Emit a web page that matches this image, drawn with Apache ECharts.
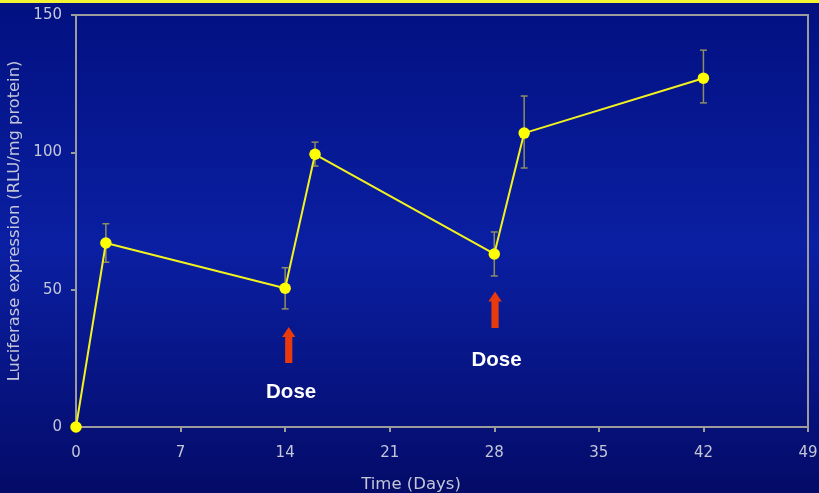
<!DOCTYPE html>
<html><head><meta charset="utf-8">
<script src="https://cdn.jsdelivr.net/npm/echarts@6/dist/echarts.min.js"></script>
<style>html,body{margin:0;padding:0;background:#03107e;}#c{width:819px;height:493px;}</style>
</head><body><div id="c"></div>
<script>
const days = [0, 2, 14, 16, 28, 30, 42];
const expression = [0, 67, 50.5, 99.3, 63, 107, 127];
const errLow = [0, 60, 43, 95, 55, 94.3, 118];
const errHigh = [0, 74, 58, 103.7, 71, 120.5, 137.2];
const doseArrows = [[14.24, 23.3, 36.4], [28.05, 36, 49.3]]; // [day, tail value, head value]
const doseLabels = [[14.4, 12.7, 'Dose'], [28.15, 24.1, 'Dose']];
const xTicks = [0, 7, 14, 21, 28, 35, 42, 49];
const yTicks = [0, 50, 100, 150];

const chart = echarts.init(document.getElementById('c'));
const axisGrey = '#9c9c9c';
const labelColor = '#c4c6d8';
chart.setOption({
  animation: false,
  backgroundColor: {
    type: 'linear', x: 0, y: 0, x2: 0, y2: 1,
    colorStops: [
      {offset: 0, color: '#021080'},
      {offset: 0.5, color: '#0a1fa2'},
      {offset: 1, color: '#040b68'}
    ]
  },
  graphic: [{type: 'rect', left: 0, top: 0, shape: {width: 819, height: 3}, style: {fill: '#f4f432'}}],
  grid: {left: 76, right: 11, top: 15, bottom: 66, containLabel: false, outerBoundsMode: 'none',
    show: true, borderColor: axisGrey, borderWidth: 2, backgroundColor: 'transparent'},
  xAxis: {
    type: 'value', min: xTicks[0], max: xTicks[xTicks.length - 1], interval: 7,
    name: 'Time (Days)', nameLocation: 'middle', nameGap: 49,
    nameTextStyle: {color: labelColor, fontFamily: 'DejaVu Sans', fontSize: 16.5, padding: [0, 62, 0, 0]},
    axisLine: {lineStyle: {color: axisGrey, width: 2}},
    axisTick: {show: true, length: 5, lineStyle: {color: axisGrey, width: 2}},
    axisLabel: {color: labelColor, fontFamily: 'DejaVu Sans', fontSize: 15, margin: 19},
    splitLine: {show: false}
  },
  yAxis: {
    type: 'value', min: yTicks[0], max: yTicks[yTicks.length - 1], interval: 50,
    name: 'Luciferase expression (RLU/mg protein)', nameLocation: 'middle', nameGap: 46,
    nameTextStyle: {color: labelColor, fontFamily: 'DejaVu Sans', fontSize: 16.3},
    axisLine: {lineStyle: {color: axisGrey, width: 2}},
    axisTick: {show: true, length: 5, lineStyle: {color: axisGrey, width: 2}},
    axisLabel: {color: labelColor, fontFamily: 'DejaVu Sans', fontSize: 15, margin: 14},
    splitLine: {show: false}
  },
  series: [
    {
      type: 'custom', z: 1,
      data: days.map((d, i) => [d, errLow[i], errHigh[i]]),
      renderItem: function (params, api) {
        const lo = api.coord([api.value(0), api.value(1)]);
        const hi = api.coord([api.value(0), api.value(2)]);
        const w = 3.5;
        const st = {stroke: '#8e8e62', lineWidth: 1.5};
        return {type: 'group', children: [
          {type: 'line', shape: {x1: lo[0], y1: lo[1], x2: hi[0], y2: hi[1]}, style: st},
          {type: 'line', shape: {x1: lo[0] - w, y1: lo[1], x2: lo[0] + w, y2: lo[1]}, style: st},
          {type: 'line', shape: {x1: hi[0] - w, y1: hi[1], x2: hi[0] + w, y2: hi[1]}, style: st}
        ]};
      }
    },
    {
      type: 'line', z: 3,
      data: days.map((d, i) => [d, expression[i]]),
      symbol: 'circle', symbolSize: 11.5,
      lineStyle: {color: '#f2f21e', width: 2},
      itemStyle: {color: '#ffff00'}
    },
    {
      type: 'custom', z: 2,
      data: doseArrows,
      renderItem: function (params, api) {
        const tail = api.coord([api.value(0), api.value(1)]);
        const head = api.coord([api.value(0), api.value(2)]);
        const x = tail[0], sw = 3.6, hw = 6.7, hh = 10;
        return {type: 'polygon', shape: {points: [
          [x - sw, tail[1]], [x - sw, head[1] + hh], [x - hw, head[1] + hh], [x, head[1]],
          [x + hw, head[1] + hh], [x + sw, head[1] + hh], [x + sw, tail[1]]
        ]}, style: {fill: '#e83a0c'}};
      }
    },
    {
      type: 'custom', z: 4,
      data: doseLabels,
      renderItem: function (params, api) {
        const p = api.coord([api.value(0), api.value(1)]);
        return {type: 'text', x: p[0], y: p[1], style: {
          text: doseLabels[params.dataIndex][2], fill: '#ffffff', align: 'center', verticalAlign: 'middle',
          fontFamily: 'Liberation Sans', fontWeight: 'bold', fontSize: 20.5
        }};
      }
    }
  ]
});
</script></body></html>
